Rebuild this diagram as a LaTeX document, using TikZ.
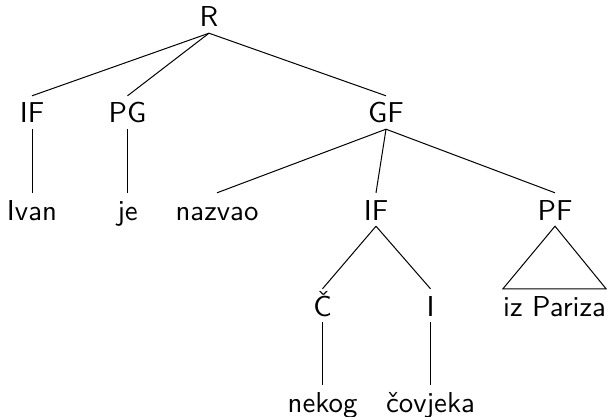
\documentclass[tikz,border=0pt]{standalone}
\usepackage{fontspec}
\newfontfamily\lmsten{lmsans10-regular.otf}
\begin{document}
\begin{tikzpicture}[x=1pt,y=-1pt,
  lbl/.style={font=\lmsten\fontsize{28.8}{34}\selectfont, anchor=base,
    inner xsep=0pt, inner ysep=6pt, text height=21pt, text depth=0pt},
  edge/.style={line width=1pt}]
\useasboundingbox (0,0) rectangle (607,417);
% row 1
\node[lbl] (R) at (209,27) {R};
% row 2
\node[lbl] (IFa) at (32,123) {IF};
\node[lbl] (PG) at (127.5,123) {PG};
\node[lbl] (GF) at (386,123) {GF};
% row 3
\node[lbl] (Ivan) at (32,220) {Ivan};
\node[lbl] (je) at (127.5,220) {je};
\node[lbl] (nazvao) at (217,220) {nazvao};
\node[lbl] (IFb) at (376,220) {IF};
\node[lbl] (PF) at (555,220) {PF};
% row 4
\node[lbl] (C) at (322.5,316) {Č};
\node[lbl] (I) at (430.5,316) {I};
\node[lbl] (Pariza) at (554.5,316) {iz Pariza};
% row 5
\node[lbl] (nekog) at (322.5,412) {nekog};
\node[lbl] (covjeka) at (430.5,412) {čovjeka};
% edges
\draw[edge] (R.south) -- (IFa.north);
\draw[edge] (R.south) -- (PG.north);
\draw[edge] (R.south) -- (GF.north);
\draw[edge] (IFa.south) -- (Ivan.north);
\draw[edge] (PG.south) -- (je.north);
\draw[edge] (GF.south) -- (nazvao.north);
\draw[edge] (GF.south) -- (IFb.north);
\draw[edge] (GF.south) -- (PF.north);
\draw[edge] (IFb.south) -- (C.north);
\draw[edge] (IFb.south) -- (I.north);
\draw[edge] (PF.south) -- (Pariza.north west) -- (Pariza.north east) -- cycle;
\draw[edge] (C.south) -- (nekog.north);
\draw[edge] (I.south) -- (covjeka.north);
\end{tikzpicture}
\end{document}
